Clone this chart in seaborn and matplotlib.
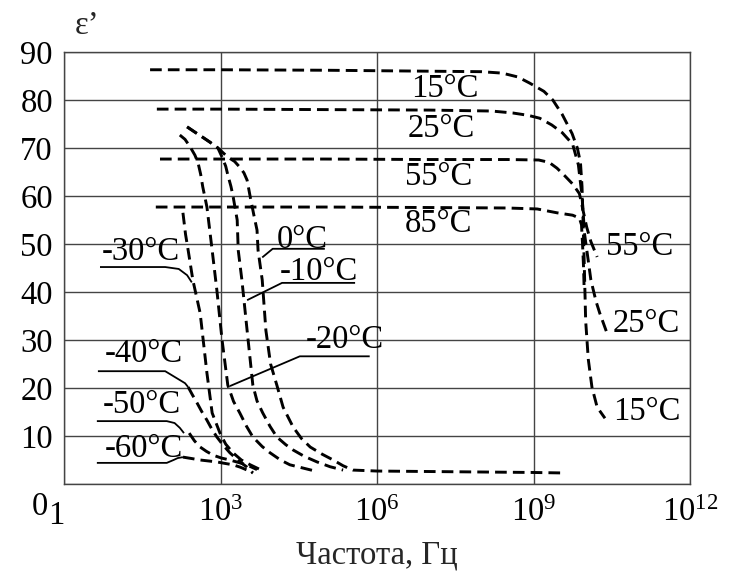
import numpy as np
import pandas as pd
import matplotlib
matplotlib.use("Agg")
import matplotlib.pyplot as plt
import matplotlib.transforms as mtransforms
import seaborn as sns

# ---- data: log10(frequency, Hz) and permittivity eps' ----
t15_lf = [1.65, 3.0, 5.0, 7.0, 8.0, 8.4, 8.7, 8.93, 9.2, 9.37, 9.55, 9.74, 9.84, 9.9, 9.93, 9.95, 9.97, 10.0, 10.05, 10.12, 10.22, 10.37]
t15_e = [86.3, 86.3, 86.2, 86.0, 85.9, 85.6, 84.8, 83.5, 81.8, 80.0, 77.0, 73.0, 70.0, 67.0, 62.0, 55.0, 47.0, 34.0, 26.0, 20.2, 16.0, 13.7]

t25_lf = [1.78, 3.0, 5.0, 7.0, 8.2, 8.6, 8.9, 9.12, 9.35, 9.55, 9.75, 9.86, 9.93, 9.98, 10.05, 10.1, 10.2, 10.27, 10.41]
t25_e = [78.1, 78.1, 78.0, 77.9, 77.7, 77.3, 76.8, 76.2, 74.8, 73.2, 70.8, 66.5, 60.0, 52.0, 46.5, 42.5, 38.0, 35.6, 31.4]

t55_lf = [1.84, 3.0, 5.0, 7.0, 8.5, 9.1, 9.3, 9.45, 9.6, 9.75, 9.88, 9.95, 10.02, 10.1, 10.22]
t55_e = [67.7, 67.7, 67.7, 67.6, 67.6, 67.5, 67.0, 65.8, 64.2, 62.5, 60.5, 57.0, 53.5, 50.5, 47.3]

t85_lf = [1.76, 3.0, 5.0, 7.0, 8.5, 9.07, 9.45, 9.75, 9.88, 9.92, 9.94, 9.96, 9.97]
t85_e = [57.7, 57.7, 57.7, 57.6, 57.5, 57.3, 56.5, 56.0, 55.4, 54.0, 50.0, 45.0, 41.0]

m30_lf = [2.28, 2.33, 2.38, 2.47, 2.61, 2.74, 2.84, 2.99, 3.1, 3.24, 3.4, 3.57, 3.8]
m30_e = [56.5, 52.0, 48.7, 42.5, 35.6, 23.1, 14.8, 10.6, 8.3, 6.5, 5.0, 4.0, 2.8]

m20_lf = [2.22, 2.32, 2.42, 2.51, 2.57, 2.62, 2.66, 2.74, 2.84, 2.93, 3.03, 3.14, 3.25, 3.37, 3.5, 3.62, 3.8, 3.95, 4.15, 4.33, 4.85]
m20_e = [72.7, 71.8, 70.2, 68.5, 66.9, 64.5, 61.9, 57.7, 48.7, 40.4, 30.0, 20.6, 17.2, 14.8, 12.0, 9.8, 7.8, 6.5, 5.0, 4.0, 2.6]

m10_lf = [2.36, 2.51, 2.65, 2.8, 2.95, 3.03, 3.1, 3.14, 3.2, 3.24, 3.32, 3.34, 3.41, 3.51, 3.62, 3.7, 3.81, 3.95, 4.08, 4.25, 4.39, 4.6, 4.85, 5.1, 5.35]
m10_e = [74.4, 73.3, 72.3, 71.2, 70.0, 68.1, 66.2, 64.4, 62.0, 60.0, 55.0, 48.7, 42.5, 32.0, 20.6, 17.3, 14.8, 12.0, 9.8, 8.2, 7.1, 5.8, 4.6, 3.6, 2.9]

p0_lf = [2.36, 2.51, 2.65, 2.8, 2.95, 3.05, 3.14, 3.27, 3.37, 3.45, 3.51, 3.57, 3.64, 3.70, 3.72, 3.8, 3.87, 3.96, 4.08, 4.2, 4.39, 4.55, 4.72, 4.95, 5.16, 5.35, 5.54, 6.0, 7.0, 8.0, 9.0, 9.56]
p0_e = [74.4, 73.3, 72.3, 71.2, 70.0, 69.0, 68.1, 67.2, 66.0, 64.8, 63.3, 59.8, 56.0, 52.9, 48.7, 42.5, 32.0, 25.0, 20.6, 16.0, 11.9, 9.5, 7.7, 6.2, 5.0, 3.8, 2.9, 2.7, 2.6, 2.5, 2.4, 2.3]

m40_lf = [2.38, 2.46, 2.55, 2.64, 2.74, 2.83, 2.93, 3.05, 3.18, 3.35, 3.51, 3.62]
m40_e = [20.2, 18.6, 16.9, 15.1, 13.3, 11.5, 9.8, 8.1, 6.5, 4.8, 3.5, 2.3]

m50_lf = [2.4, 2.5, 2.61, 2.73, 2.86, 3.02, 3.18, 3.34, 3.5, 3.7]
m50_e = [10.6, 9.0, 7.7, 6.8, 6.0, 5.4, 5.0, 4.5, 4.0, 3.0]

m60_lf = [2.28, 2.45, 2.61, 2.77, 2.93, 3.08, 3.24, 3.38, 3.51, 3.62]
m60_e = [5.6, 5.3, 5.0, 4.8, 4.6, 4.3, 4.0, 3.5, 2.9, 2.3]

series = {
    "15°C": (t15_lf, t15_e), "25°C": (t25_lf, t25_e), "55°C": (t55_lf, t55_e),
    "85°C": (t85_lf, t85_e), "-30°C": (m30_lf, m30_e), "-20°C": (m20_lf, m20_e),
    "-10°C": (m10_lf, m10_e), "0°C": (p0_lf, p0_e), "-40°C": (m40_lf, m40_e),
    "-50°C": (m50_lf, m50_e), "-60°C": (m60_lf, m60_e),
}

y_ticks = [0, 10, 20, 30, 40, 50, 60, 70, 80, 90]
x_tick_exp = [0, 3, 6, 9, 12]
x_tick_labels = ["1", r"$\mathregular{10^{3}}$", r"$\mathregular{10^{6}}$",
                 r"$\mathregular{10^{9}}$", r"$\mathregular{10^{12}}$"]

# labels: (text, log10 f, eps at baseline)
curve_labels = [
    ("15°C", 7.30, 80.6), ("25°C", 7.23, 72.3), ("55°C", 7.19, 62.3), ("85°C", 7.17, 52.5),
    ("55°C", 11.04, 47.7), ("25°C", 11.17, 31.7), ("15°C", 11.17, 13.3),
    ("-30°C", 1.48, 46.7), ("0°C", 4.56, 49.2), ("-10°C", 4.89, 42.5), ("-20°C", 5.39, 28.3),
    ("-40°C", 1.53, 25.4), ("-50°C", 1.50, 14.8), ("-60°C", 1.53, 5.6),
]
# leader lines: list of (log10 f, eps) vertices
leaders = [
    [(0.69, 45.2), (1.94, 45.2), (2.2, 44.8), (2.36, 43.5), (2.45, 42.0)],
    [(3.8, 47.2), (4.0, 49.0), (5.0, 49.0)],
    [(3.51, 38.3), (4.18, 41.9), (5.58, 41.9)],
    [(3.18, 20.4), (4.52, 26.6), (5.86, 26.6)],
    [(0.65, 23.5), (1.94, 23.5), (2.32, 21.0), (2.38, 20.2)],
    [(0.63, 13.1), (1.97, 13.1), (2.12, 12.7), (2.22, 11.7), (2.3, 10.6)],
    [(0.63, 4.4), (1.97, 4.4), (2.1, 5.0), (2.18, 5.4), (2.28, 5.6)],
]

sns.set_theme(style="white")
plt.rcParams["font.family"] = ["Liberation Serif", "DejaVu Serif"]
plt.rcParams["mathtext.fontset"] = "custom"
plt.rcParams["mathtext.rm"] = "Liberation Serif"
plt.rcParams["mathtext.it"] = "Liberation Serif:italic"

FS = 23.5

fig = plt.figure(figsize=(7.39, 5.72), dpi=100)
ax = fig.add_axes([64 / 739, 88 / 572, 626 / 739, 432 / 572])

frames = []
for name, (lf, e) in series.items():
    frames.append(pd.DataFrame({"freq": np.power(10.0, lf), "eps": e, "curve": name}))
df = pd.concat(frames, ignore_index=True)

for name in series:
    sub = df[df["curve"] == name]
    sns.lineplot(data=sub, x="freq", y="eps", ax=ax, color="black", sort=False,
                 estimator=None, linewidth=2.1, linestyle=(0, (4.0, 2.1)), legend=False)

for pts in leaders:
    xs = np.power(10.0, [p[0] for p in pts])
    ys = [p[1] for p in pts]
    ax.plot(xs, ys, color="black", linewidth=1.3, solid_capstyle="butt")

for txt, lf, e in curve_labels:
    ax.text(10 ** lf, e, txt, ha="center", va="baseline", fontsize=FS, color="black")

ax.set_xscale("log")
ax.set_xlim(1, 1e12)
ax.set_ylim(0, 90)
ax.set_xticks([10.0 ** k for k in x_tick_exp])
ax.set_xticklabels(x_tick_labels)
ax.set_yticks(y_ticks)
ax.set_yticklabels([str(v) for v in y_ticks])
ax.minorticks_off()
ax.tick_params(axis="both", length=0, labelsize=FS, colors="black")
ax.tick_params(axis="y", pad=8)
ax.tick_params(axis="x", pad=10)

# shift origin labels as in the reference
ylab0 = ax.get_yticklabels()[0]
ylab0.set_transform(ylab0.get_transform() + mtransforms.ScaledTranslation(-5 / 100, -19 / 100, fig.dpi_scale_trans))
xlab0 = ax.get_xticklabels()[0]
xlab0.set_transform(xlab0.get_transform() + mtransforms.ScaledTranslation(-8 / 100, -3 / 100, fig.dpi_scale_trans))

ax.grid(True, which="major", color="#444444", linewidth=1.0)
for s in ax.spines.values():
    s.set_color("#444444")
    s.set_linewidth(1.0)

ax.set_ylabel("")
ax.set_xlabel("Частота, Гц", fontsize=FS, labelpad=6)
fig.text(87 / 739, 1 - 26 / 572, "ε’", fontsize=FS, ha="center", va="center")

fig.savefig("out.png", dpi=100)
